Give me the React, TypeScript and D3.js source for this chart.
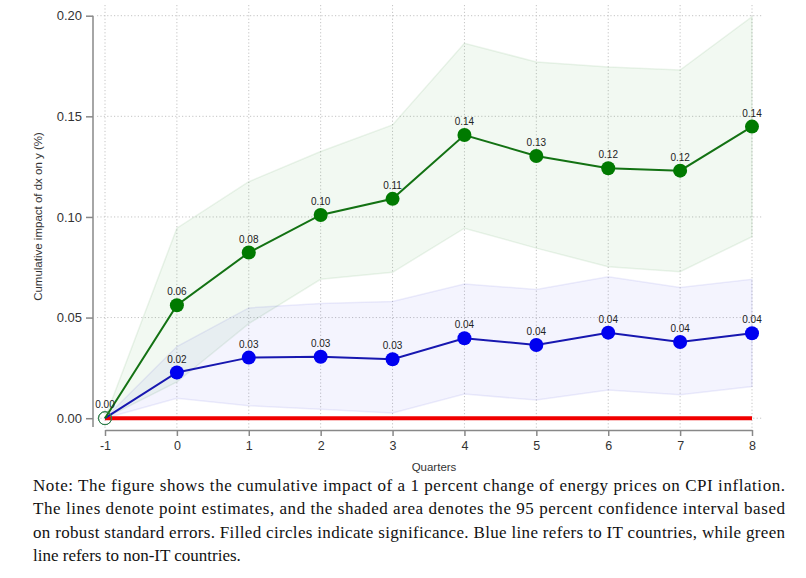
import React, { useEffect, useRef } from 'react';
import * as d3 from 'd3';

// Quarters after the shock
const quarters = [-1, 0, 1, 2, 3, 4, 5, 6, 7, 8];

// Non-IT countries (green)
const nonItEst = [0, 0.0561, 0.0823, 0.101, 0.109, 0.1407, 0.1303, 0.1242, 0.123, 0.1449];
const nonItLow = [0, 0.018, 0.047, 0.069, 0.0725, 0.0944, 0.0845, 0.0753, 0.0728, 0.0902];
const nonItHigh = [0, 0.0944, 0.1175, 0.1325, 0.1457, 0.1863, 0.177, 0.1745, 0.173, 0.1995];
const nonItLabels = ['0.00', '0.06', '0.08', '0.10', '0.11', '0.14', '0.13', '0.12', '0.12', '0.14'];

// IT countries (blue) - label at -1 hidden under the green one
const itEst = [0, 0.0227, 0.0301, 0.0305, 0.0293, 0.0397, 0.0364, 0.0425, 0.0379, 0.0422];
const itLow = [0, 0.0099, 0.0062, 0.0045, 0.0026, 0.012, 0.009, 0.014, 0.0116, 0.0157];
const itHigh = [0, 0.0356, 0.0548, 0.057, 0.058, 0.0667, 0.064, 0.0703, 0.065, 0.069];
const itLabels = ['', '0.02', '0.03', '0.03', '0.03', '0.04', '0.04', '0.04', '0.04', '0.04'];

// filled circle = significant
const significant = [false, true, true, true, true, true, true, true, true, true];

const yTicks = [0, 0.05, 0.1, 0.15, 0.2];

const noteLines = [
  'Note: The figure shows the cumulative impact of a 1 percent change of energy prices on CPI inflation.',
  'The lines denote point estimates, and the shaded area denotes the 95 percent confidence interval based',
  'on robust standard errors. Filled circles indicate significance. Blue line refers to IT countries, while green',
  'line refers to non-IT countries.',
];

const width = 806;
const height = 578;

export default function App() {
  const svgRef = useRef<SVGSVGElement>(null);

  useEffect(() => {
    if (!svgRef.current) return;
    const svg = d3.select(svgRef.current);
    svg.selectAll('*').remove();

    const x = d3.scaleLinear().domain([-1, 8]).range([105, 752]);
    const y = d3.scaleLinear().domain([0, 0.2]).range([418.2, 15.7]);
    const axisY = 430;
    const axisX = 93;

    // grid
    const grid = svg.append('g').attr('stroke', '#c4c4c4').attr('stroke-dasharray', '1.2,2.2').attr('stroke-width', 1);
    grid.selectAll('.vg')
      .data(quarters)
      .enter().append('line')
      .attr('x1', d => x(d)).attr('x2', d => x(d))
      .attr('y1', 5).attr('y2', axisY);
    grid.selectAll('.hg')
      .data(yTicks)
      .enter().append('line')
      .attr('x1', 97).attr('x2', 763)
      .attr('y1', d => y(d)).attr('y2', d => y(d));

    // confidence bands
    const series = [
      { est: nonItEst, low: nonItLow, high: nonItHigh, labels: nonItLabels, fill: 'rgba(0,130,0,0.05)', edge: 'rgba(0,120,0,0.08)', line: '#137213', dot: '#007a00' },
      { est: itEst, low: itLow, high: itHigh, labels: itLabels, fill: 'rgba(0,0,230,0.045)', edge: 'rgba(0,0,200,0.07)', line: '#1717b0', dot: '#0000f0' },
    ];

    series.forEach(s => {
      const area = d3.area<number>()
        .x(d => x(d))
        .y0((d, i) => y(s.low[i]))
        .y1((d, i) => y(s.high[i]));
      svg.append('path')
        .attr('d', area(quarters))
        .attr('fill', s.fill)
        .attr('stroke', s.edge)
        .attr('stroke-width', 1.5);
    });

    // zero line
    svg.append('line')
      .attr('x1', x(-1)).attr('x2', x(8))
      .attr('y1', y(0)).attr('y2', y(0))
      .attr('stroke', '#f00000')
      .attr('stroke-width', 4);

    // lines and points (blue first, green on top at origin)
    [series[1], series[0]].forEach(s => {
      const line = d3.line<number>()
        .x(d => x(d))
        .y((d, i) => y(s.est[i]));
      svg.append('path')
        .attr('d', line(quarters))
        .attr('fill', 'none')
        .attr('stroke', s.line)
        .attr('stroke-width', 2);

      svg.selectAll(null)
        .data(quarters)
        .enter().append('circle')
        .attr('cx', d => x(d))
        .attr('cy', (d, i) => y(s.est[i]))
        .attr('r', (d, i) => (significant[i] ? 7 : 6.5))
        .attr('fill', (d, i) => (significant[i] ? s.dot : 'none'))
        .attr('stroke', (d, i) => (significant[i] ? 'none' : '#2e7d4a'))
        .attr('stroke-width', 1);

      svg.selectAll(null)
        .data(quarters)
        .enter().append('text')
        .attr('x', d => x(d))
        .attr('y', (d, i) => y(s.est[i]) - 10)
        .attr('text-anchor', 'middle')
        .style('font-family', 'Liberation Sans, Arial, sans-serif')
        .style('font-size', '10px')
        .style('fill', '#222')
        .text((d, i) => s.labels[i]);
    });

    // y axis
    const yAxis = svg.append('g')
      .attr('transform', `translate(${axisX},0)`)
      .call(d3.axisLeft(y).tickValues(yTicks).tickFormat(d3.format('.2f')).tickSize(7).tickSizeOuter(0).tickPadding(4));
    yAxis.select('.domain').remove();
    yAxis.append('line')
      .attr('x1', 0).attr('x2', 0)
      .attr('y1', y(0.2)).attr('y2', axisY - 3)
      .attr('stroke', '#888').attr('stroke-width', 1.5);
    yAxis.selectAll('.tick line').attr('stroke', '#888').attr('stroke-width', 1.5);
    yAxis.selectAll('.tick text')
      .style('font-family', 'Liberation Sans, Arial, sans-serif')
      .style('font-size', '13px')
      .style('fill', '#333');

    // x axis
    const xAxis = svg.append('g')
      .attr('transform', `translate(0,${axisY})`)
      .call(d3.axisBottom(x).tickValues(quarters).tickFormat(d => String(d)).tickSize(6).tickSizeOuter(0).tickPadding(5));
    xAxis.select('.domain').attr('stroke', '#888').attr('stroke-width', 1.5);
    xAxis.selectAll('.tick line').attr('stroke', '#888').attr('stroke-width', 1.5);
    xAxis.selectAll('.tick text')
      .style('font-family', 'Liberation Sans, Arial, sans-serif')
      .style('font-size', '12.5px')
      .style('fill', '#333');

    // axis titles
    svg.append('text')
      .attr('transform', `translate(42,${(130 + 303) / 2}) rotate(-90)`)
      .attr('text-anchor', 'middle')
      .style('font-family', 'Liberation Sans, Arial, sans-serif')
      .style('font-size', '11.5px')
      .style('fill', '#333')
      .text('Cumulative impact of dx on y (%)');

    svg.append('text')
      .attr('x', 434)
      .attr('y', 471)
      .attr('text-anchor', 'middle')
      .style('font-family', 'Liberation Sans, Arial, sans-serif')
      .style('font-size', '11.5px')
      .style('fill', '#333')
      .text('Quarters');

    // note
    svg.selectAll('.note')
      .data(noteLines)
      .enter().append('text')
      .attr('x', 33)
      .attr('y', (d, i) => 491 + i * 23.4)
      .attr('textLength', (d, i) => (i < 3 ? 752 : null))
      .attr('lengthAdjust', 'spacing')
      .style('font-family', 'Liberation Serif, Times New Roman, serif')
      .style('font-size', '17px')
      .style('fill', '#111')
      .text(d => d);
  }, []);

  return (
    <div style={{ position: 'absolute', left: 0, top: 0, background: '#fff' }}>
      <svg ref={svgRef} width={width} height={height} viewBox={`0 0 ${width} ${height}`} />
    </div>
  );
}
